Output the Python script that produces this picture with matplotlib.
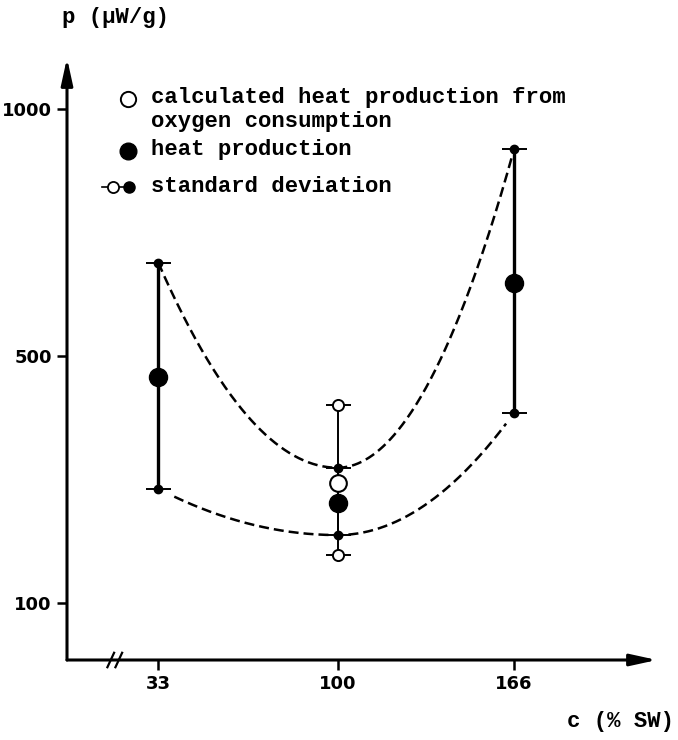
import numpy as np
import matplotlib
matplotlib.use("Agg")
import matplotlib.pyplot as plt

# salinity (% SW) and heat production (uW/g)
conc = [33, 100, 166]
heat_mean = [466, 262, 648]
heat_lo = [285, 210, 408]
heat_hi = [689, 319, 919]

# heat production calculated from oxygen consumption (only at 100 % SW)
calc_conc = [100]
calc_mean = [294]
calc_lo = [178]
calc_hi = [421]

yticks = [100, 500, 1000]
xticks = [33, 100, 166]

W, H = 678, 740
mono = "Liberation Mono"


def fwd(v):
    v = np.asarray(v, dtype=float)
    return np.where(v <= 500, (v - 100) / 400, 1 + (v - 500) / 500)


def inv(t):
    t = np.asarray(t, dtype=float)
    return np.where(t <= 1, 100 + 400 * t, 500 + 500 * (t - 1))


def fig_xy(px, py):
    return px / W, 1 - py / H


def envelope(xs, vals, x_from, x_to):
    # two half-parabolas meeting with zero slope at the middle point
    t = fwd(vals)
    kl = (t[0] - t[1]) / (xs[0] - xs[1]) ** 2
    kr = (t[2] - t[1]) / (xs[2] - xs[1]) ** 2
    x = np.linspace(x_from, x_to, 300)
    k = np.where(x < xs[1], kl, kr)
    return x, inv(t[1] + k * (x - xs[1]) ** 2)


fig = plt.figure(figsize=(W / 100, H / 100), dpi=100)
ax = fig.add_axes([67 / W, 1 - 660 / H, 590 / W, 602 / H])
ax.set_yscale("function", functions=(fwd, inv))
ax.set_xlim(-1.1, 219.4)
ax.set_ylim(7.7, 1103)

for s in ax.spines.values():
    s.set_visible(False)

# axes drawn as arrows
arrow = dict(arrowstyle="-|>,head_length=1.6,head_width=0.35", color="black",
             lw=2.2, shrinkA=0, shrinkB=0)
ax.annotate("", xy=(0, 1), xytext=(0, 0), xycoords="axes fraction", arrowprops=arrow)
ax.annotate("", xy=(1, 0), xytext=(0, 0), xycoords="axes fraction", arrowprops=arrow)

# axis break on the x axis
for dx in (0, 3):
    ax.plot([14 + dx, 16.5 + dx], [-0.012, 0.012], transform=ax.get_xaxis_transform(),
            color="black", lw=1.6, clip_on=False)

ax.set_xticks(xticks)
ax.set_yticks(yticks)
ax.set_xticklabels([str(v) for v in xticks])
ax.set_yticklabels([str(v) for v in yticks])
ax.tick_params(axis="both", direction="out", length=7, width=1.8, pad=4,
               labelsize=13)
for lab in ax.get_xticklabels() + ax.get_yticklabels():
    lab.set_fontweight("bold")

# dashed envelopes through the standard deviation limits
x, y = envelope(conc, heat_hi, conc[0], conc[2])
ax.plot(x, y, color="black", lw=1.8, linestyle=(0, (4, 2)))
x, y = envelope(conc, heat_lo, conc[0] + 6, conc[2] - 3)
ax.plot(x, y, color="black", lw=1.8, linestyle=(0, (4, 2)))

# error bars for heat production
for x, m, lo, hi in zip(conc, heat_mean, heat_lo, heat_hi):
    lw = 1.4 if x == 100 else 2.4
    ax.plot([x, x], [lo, hi], color="black", lw=lw, zorder=3)
    ax.plot([x, x], [lo, hi], linestyle="none", marker="_", markersize=18,
            mew=1.4, color="black", zorder=3)
    ax.plot([x, x], [lo, hi], linestyle="none", marker="o", markersize=6,
            color="black", zorder=4)

# error bar for calculated heat production
for x, m, lo, hi in zip(calc_conc, calc_mean, calc_lo, calc_hi):
    ax.plot([x, x], [lo, hi], color="black", lw=1.4, zorder=3)
    ax.plot([x, x], [lo, hi], linestyle="none", marker="_", markersize=18,
            mew=1.4, color="black", zorder=3)
    ax.plot([x, x], [lo, hi], linestyle="none", marker="o", markersize=8,
            mfc="white", mec="black", mew=1.4, zorder=4)
    ax.plot([x], [m], linestyle="none", marker="o", markersize=12,
            mfc="white", mec="black", mew=1.5, zorder=5)

ax.plot(conc, heat_mean, linestyle="none", marker="o", markersize=13,
        color="black", zorder=5)

# legend
tkw = dict(fontsize=16, family=mono, va="center", ha="left", weight="bold")
fig.lines.append(plt.Line2D(*zip(fig_xy(128, 99)), marker="o", markersize=11,
                            mfc="white", mec="black", mew=1.4,
                            transform=fig.transFigure))
fig.text(*fig_xy(151, 98), "calculated heat production from", **tkw)
fig.text(*fig_xy(151, 121), "oxygen consumption", **tkw)
fig.lines.append(plt.Line2D(*zip(fig_xy(128, 151)), marker="o", markersize=12,
                            color="black", transform=fig.transFigure))
fig.text(*fig_xy(151, 150), "heat production", **tkw)
fig.lines.append(plt.Line2D([102 / W, 134 / W], [1 - 187 / H] * 2, color="black",
                            lw=1.2, transform=fig.transFigure))
fig.lines.append(plt.Line2D(*zip(fig_xy(113, 187)), marker="o", markersize=8,
                            mfc="white", mec="black", mew=1.3,
                            transform=fig.transFigure))
fig.lines.append(plt.Line2D(*zip(fig_xy(129, 187)), marker="o", markersize=8,
                            color="black", transform=fig.transFigure))
fig.text(*fig_xy(151, 187), "standard deviation", **tkw)

# axis titles
fig.text(*fig_xy(62, 18), "p (\u03bcW/g)", **tkw)
fig.text(*fig_xy(674, 722), "c (% SW)", **dict(tkw, ha="right"))

fig.savefig("out.png", dpi=100)
